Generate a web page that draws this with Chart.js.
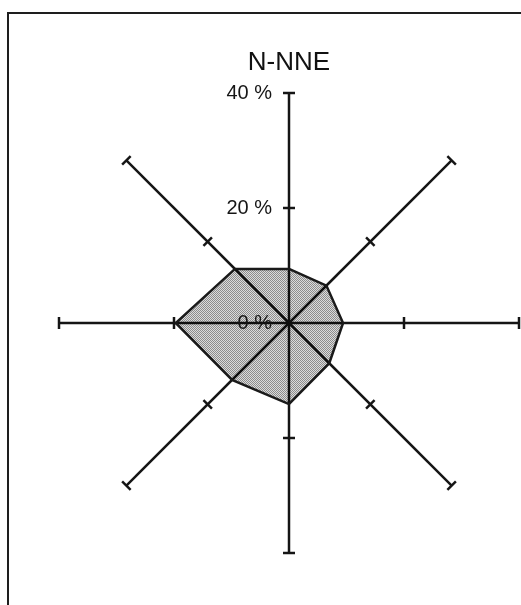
<!DOCTYPE html>
<html>

<head>
  <meta charset="UTF-8" />
  <title>N-NNE</title>
  <script src="https://cdn.jsdelivr.net/npm/chart.js@4.4.1/dist/chart.umd.min.js"></script>
  <style>
    body { margin: 0; background: #fff; }
  </style>
</head>

<body>
  <canvas id="chart" width="521" height="605"></canvas>
  <script>
    // directions, clockwise from the top
    const directions = ['N', 'NE', 'E', 'SE', 'S', 'SW', 'W', 'NW'];
    // share of observations (%)
    const shares = [9.4, 9.2, 9.4, 9.9, 14.1, 14.0, 19.7, 13.3];
    const tickValues = [0, 20, 40];
    const tickLabels = ['0 %', '20 %', '40 %'];

    // fine dotted fill like the printed stipple
    function stipple() {
      const c = document.createElement('canvas');
      c.width = 2; c.height = 2;
      const g = c.getContext('2d');
      g.fillStyle = 'rgba(0,0,0,0.45)';
      g.fillRect(0, 0, 1, 1);
      g.fillRect(1, 1, 1, 1);
      g.fillStyle = 'rgba(0,0,0,0.14)';
      g.fillRect(1, 0, 1, 1);
      g.fillRect(0, 1, 1, 1);
      return g.createPattern(c, 'repeat');
    }

    const frame = {
      id: 'frame',
      beforeDraw(chart) {
        const ctx = chart.ctx;
        ctx.save();
        ctx.strokeStyle = '#1e1e1e';
        ctx.lineWidth = 2;
        ctx.beginPath();
        ctx.moveTo(8, chart.height);
        ctx.lineTo(8, 13);
        ctx.lineTo(chart.width, 13);
        ctx.stroke();
        ctx.restore();
      }
    };

    // short cross ticks on every spoke plus the % labels on the north spoke
    const spokeTicks = {
      id: 'spokeTicks',
      afterDatasetsDraw(chart) {
        const r = chart.scales.r;
        const ctx = chart.ctx;
        ctx.save();
        ctx.strokeStyle = '#151515';
        ctx.lineWidth = 2.5;
        directions.forEach((d, i) => {
          const a = r.getIndexAngle(i) - Math.PI / 2;
          const px = -Math.sin(a), py = Math.cos(a);
          tickValues.slice(1).forEach(v => {
            const p = r.getPointPositionForValue(i, v);
            ctx.beginPath();
            ctx.moveTo(p.x - px * 6, p.y - py * 6);
            ctx.lineTo(p.x + px * 6, p.y + py * 6);
            ctx.stroke();
          });
        });
        ctx.fillStyle = '#151515';
        ctx.font = '20px "Liberation Sans", Arial, sans-serif';
        ctx.textAlign = 'right';
        ctx.textBaseline = 'middle';
        tickValues.forEach((v, k) => {
          const p = r.getPointPositionForValue(0, v);
          ctx.fillText(tickLabels[k], r.xCenter - 17, p.y);
        });
        ctx.restore();
      }
    };

    const ctx = document.getElementById('chart').getContext('2d');
    new Chart(ctx, {
      type: 'radar',
      data: {
        labels: directions,
        datasets: [{
          label: 'N-NNE',
          data: shares,
          backgroundColor: stipple(),
          borderColor: '#1a1a1a',
          borderWidth: 2.5,
          pointRadius: 0,
          fill: true,
          tension: 0
        }]
      },
      options: {
        responsive: false,
        animation: false,
        devicePixelRatio: 1,
        layout: { padding: { left: 58, right: 1, top: 40, bottom: 51 } },
        plugins: {
          legend: { display: false },
          tooltip: { enabled: false },
          title: {
            display: true,
            text: 'N-NNE',
            color: '#111',
            font: { family: '"Liberation Sans", Arial, sans-serif', size: 26, weight: 'normal' },
            padding: { top: 7, bottom: 14 }
          }
        },
        scales: {
          r: {
            min: 0,
            max: 40,
            ticks: { display: false, stepSize: 20 },
            grid: { display: false },
            angleLines: { display: true, color: '#151515', lineWidth: 2.5 },
            pointLabels: { display: false }
          }
        }
      },
      plugins: [frame, spokeTicks]
    });
  </script>
</body>

</html>
